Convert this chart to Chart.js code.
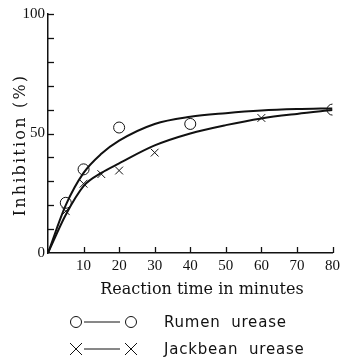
<!DOCTYPE html>
<html>
<head>
<meta charset="utf-8">
<script src="https://cdn.jsdelivr.net/npm/chart.js@4/dist/chart.umd.min.js"></script>
<style>
  html, body { margin: 0; padding: 0; background: #fff; }
  #wrap { position: relative; width: 344px; height: 360px; }
</style>
</head>
<body>
<div id="wrap"><canvas id="c" width="344" height="360"></canvas></div>
<script>
// ---- data ----
const rumenTimes  = [5, 10, 20, 40, 80];
const rumenValues = [21, 35, 52.5, 54, 60];
const jackTimes   = [5, 10, 15, 20, 30, 60];
const jackValues  = [17.5, 29, 33, 34.5, 42, 56.5];
const curveTimes  = [0, 5, 10, 15, 20, 30, 40, 50, 60, 70, 80];
const rumenCurve  = [0, 20, 33.5, 41.5, 47, 54, 57, 58.5, 59.6, 60.2, 60.5];
const jackCurve   = [0, 16, 28, 33.5, 37.5, 45, 50, 53.5, 56.3, 58.2, 59.8];
const yLabeledTicks = [0, 50, 100];
const xTitle = 'Reaction time in minutes';
const yTitle = 'Inhibition (%)';
const legendLabels = ['Rumen urease', 'Jackbean urease'];

const pts = (xs, ys) => xs.map((x, i) => ({ x: x, y: ys[i] }));

const INK = '#111';

const decor = {
  id: 'decor',
  afterDraw(chart) {
    const ctx = chart.ctx;
    const xs = chart.scales.x, ys = chart.scales.y;
    const a = chart.chartArea;
    ctx.save();
    ctx.strokeStyle = INK;
    ctx.lineWidth = 1.3;
    // inward tick marks
    for (let v = 10; v <= 100; v += 10) {
      const p = Math.round(ys.getPixelForValue(v)) + 0.5;
      ctx.beginPath(); ctx.moveTo(a.left, p); ctx.lineTo(a.left + 6, p); ctx.stroke();
    }
    for (let v = 10; v <= 80; v += 10) {
      const p = Math.round(xs.getPixelForValue(v)) + 0.5;
      ctx.beginPath(); ctx.moveTo(p, a.bottom); ctx.lineTo(p, a.bottom - 6); ctx.stroke();
    }
    // axis titles
    ctx.fillStyle = INK;
    ctx.font = '16px "DejaVu Serif"';
    ctx.textAlign = 'center';
    ctx.textBaseline = 'alphabetic';
    ctx.fillText(xTitle, 202, 294);
    ctx.save();
    ctx.translate(25, 145);
    ctx.rotate(-Math.PI / 2);
    try { ctx.letterSpacing = '2.2px'; } catch (e) {}
    ctx.font = '16px "DejaVu Serif"';
    ctx.fillText(yTitle, 0, 0);
    ctx.restore();
    // legend
    const rows = [322, 349];
    ctx.lineWidth = 1;
    rows.forEach((yy, i) => {
      ctx.beginPath(); ctx.moveTo(84, yy); ctx.lineTo(120, yy); ctx.stroke();
      [76, 131].forEach(cx => {
        ctx.beginPath();
        if (i === 0) {
          ctx.arc(cx, yy, 5.5, 0, Math.PI * 2);
        } else {
          ctx.moveTo(cx - 6, yy - 6); ctx.lineTo(cx + 6, yy + 6);
          ctx.moveTo(cx - 6, yy + 6); ctx.lineTo(cx + 6, yy - 6);
        }
        ctx.stroke();
      });
      ctx.save();
      ctx.textAlign = 'left';
      ctx.textBaseline = 'middle';
      ctx.font = '15px "DejaVu Sans"';
      try { ctx.letterSpacing = '0.8px'; ctx.wordSpacing = '5px'; } catch (e) {}
      ctx.fillText(legendLabels[i], 164, yy + 1);
      ctx.restore();
    });
    ctx.restore();
  }
};

new Chart(document.getElementById('c'), {
  type: 'scatter',
  data: {
    datasets: [
      { data: pts(curveTimes, rumenCurve), showLine: true, borderColor: INK, borderWidth: 2,
        pointRadius: 0, cubicInterpolationMode: 'monotone', fill: false },
      { data: pts(curveTimes, jackCurve), showLine: true, borderColor: INK, borderWidth: 2,
        pointRadius: 0, cubicInterpolationMode: 'monotone', fill: false },
      { data: pts(rumenTimes, rumenValues), showLine: false, pointStyle: 'circle', pointRadius: 5.5,
        pointBackgroundColor: '#fff', pointBorderColor: INK, pointBorderWidth: 1 },
      { data: pts(jackTimes, jackValues), showLine: false, pointStyle: 'crossRot', pointRadius: 5.5,
        pointBorderColor: INK, pointBorderWidth: 1 }
    ]
  },
  options: {
    responsive: false,
    animation: false,
    events: [],
    layout: { padding: { top: 14, right: 9, left: 0, bottom: 0 } },
    plugins: { legend: { display: false }, tooltip: { enabled: false } },
    scales: {
      x: {
        type: 'linear', min: 0, max: 80,
        afterFit(s) { s.height = 107; },
        grid: { drawOnChartArea: false, drawTicks: false },
        border: { display: true, color: INK, width: 1.5 },
        ticks: { stepSize: 10, padding: 4, color: INK,
          font: { family: '"Liberation Serif"', size: 15 },
          callback: v => (v === 0 ? '' : String(v)) }
      },
      y: {
        type: 'linear', min: 0, max: 100,
        afterFit(s) { s.width = 48; },
        grid: { drawOnChartArea: false, drawTicks: false },
        border: { display: true, color: INK, width: 1.5 },
        ticks: { stepSize: 10, padding: 3, color: INK, autoSkip: false,
          font: { family: '"Liberation Serif"', size: 15 },
          callback: v => (yLabeledTicks.includes(v) ? String(v) : '') }
      }
    }
  },
  plugins: [decor]
});
</script>
</body>
</html>
